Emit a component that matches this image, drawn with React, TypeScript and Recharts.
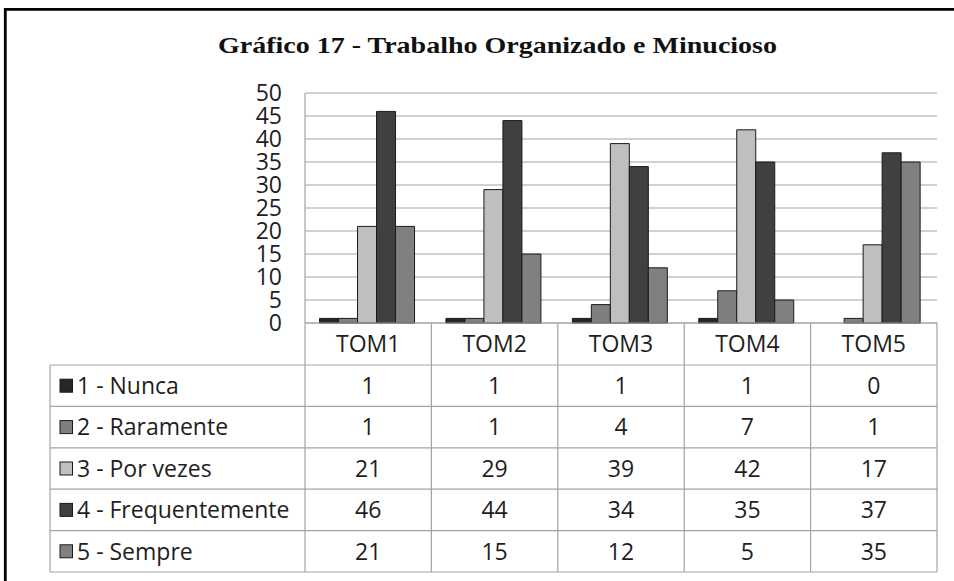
import React from 'react';
import { BarChart, Bar, XAxis, YAxis, CartesianGrid } from 'recharts';

const categories = ['TOM1', 'TOM2', 'TOM3', 'TOM4', 'TOM5'];
const seriesNames = ['1 - Nunca', '2 - Raramente', '3 - Por vezes', '4 - Frequentemente', '5 - Sempre'];
const nunca = [1, 1, 1, 1, 0];
const raramente = [1, 1, 4, 7, 1];
const porVezes = [21, 29, 39, 42, 17];
const frequentemente = [46, 44, 34, 35, 37];
const sempre = [21, 15, 12, 5, 35];
const yTicks = [0, 5, 10, 15, 20, 25, 30, 35, 40, 45, 50];
const title = 'Gráfico 17 - Trabalho Organizado e Minucioso';

const seriesValues = [nunca, raramente, porVezes, frequentemente, sempre];
const seriesKeys = ['s1', 's2', 's3', 's4', 's5'];
const colors = ['#262626', '#7f7f7f', '#bfbfbf', '#404040', '#808080'];

const data = categories.map((name, i) => {
  const row: Record<string, any> = { name };
  seriesKeys.forEach((k, s) => {
    row[k] = seriesValues[s][i];
  });
  return row;
});

const W = 954;
const H = 581;
const HEADER_H = 42;
const ROW_H = 41.4;
const LEGEND_W = 255;
const LINE = '#a3a3a3';
const TEXT = '#1e1e1e';
const FONT = '"Open Sans", sans-serif';
const FS = 23;

const TableTick = (props: any) => {
  const { x, y, payload, index } = props;
  const half = payload && payload.offset ? payload.offset : 63.2;
  const left = x - half;
  const right = x + half;
  const bottom = y + HEADER_H + ROW_H * 5;
  const els: any[] = [];
  // header label
  els.push(
    <text key="h" x={x} y={y + HEADER_H / 2 + 8.2} textAnchor="middle" fontFamily={FONT} fontSize={FS} fill={TEXT}>
      {payload.value}
    </text>
  );
  // right vertical line of column
  els.push(<line key="vr" x1={right} x2={right} y1={y} y2={bottom} stroke={LINE} strokeWidth={1.2} />);
  if (index === 0) {
    els.push(<line key="vl" x1={left} x2={left} y1={y} y2={bottom} stroke={LINE} strokeWidth={1.2} />);
    const lx = left - LEGEND_W;
    els.push(<line key="vll" x1={lx} x2={lx} y1={y + HEADER_H} y2={bottom} stroke={LINE} strokeWidth={1.2} />);
    for (let r = 0; r <= 5; r++) {
      const ly = y + HEADER_H + r * ROW_H;
      els.push(<line key={'lh' + r} x1={lx} x2={left} y1={ly} y2={ly} stroke={LINE} strokeWidth={1.2} />);
    }
    seriesNames.forEach((nm, s) => {
      const cy = y + HEADER_H + s * ROW_H + ROW_H / 2;
      els.push(
        <rect key={'m' + s} x={lx + 10} y={cy - 6.5} width={12.5} height={13} fill={colors[s]} stroke="#1a1a1a" strokeWidth={1} />
      );
      els.push(
        <text key={'t' + s} x={lx + 27} y={cy + 8.2} fontFamily={FONT} fontSize={FS} fill={TEXT}>
          {nm}
        </text>
      );
    });
  }
  for (let r = 0; r <= 5; r++) {
    const ly = y + HEADER_H + r * ROW_H;
    els.push(<line key={'h' + r} x1={left} x2={right} y1={ly} y2={ly} stroke={LINE} strokeWidth={1.2} />);
  }
  seriesValues.forEach((vals, s) => {
    const cy = y + HEADER_H + s * ROW_H + ROW_H / 2;
    els.push(
      <text key={'v' + s} x={x} y={cy + 8.2} textAnchor="middle" fontFamily={FONT} fontSize={FS} fill={TEXT}>
        {vals[index]}
      </text>
    );
  });
  return <g>{els}</g>;
};

export default function App() {
  return (
    <div style={{ position: 'absolute', left: 0, top: 0, width: W, height: H, background: '#fff' }}>
      <BarChart
        width={W}
        height={H}
        data={data}
        margin={{ top: 93, right: 17, bottom: 9, left: 245 }}
        barCategoryGap="11.5%"
        barGap={0}
      >
        <CartesianGrid vertical={false} stroke={LINE} strokeWidth={1.2} />
        <YAxis
          width={60}
          domain={[0, 50]}
          ticks={yTicks}
          interval={0}
          axisLine={{ stroke: LINE, strokeWidth: 1.2 }}
          tickLine={false}
          tickSize={6}
          tickMargin={17}
          tick={{ fontFamily: FONT, fontSize: FS, fill: TEXT }}
        />
        <XAxis
          dataKey="name"
          height={249}
          interval={0}
          tickLine={false}
          tickSize={0}
          tickMargin={0}
          axisLine={{ stroke: LINE, strokeWidth: 1.2 }}
          tick={<TableTick />}
        />
        {seriesKeys.map((k, s) => (
          <Bar key={k} dataKey={k} name={seriesNames[s]} fill={colors[s]} stroke="#1a1a1a" strokeWidth={1} isAnimationActive={false} />
        ))}
      </BarChart>
      <svg width={W} height={H} style={{ position: 'absolute', left: 0, top: 0, pointerEvents: 'none' }}>
        <line x1={5.3} x2={5.3} y1={8} y2={H} stroke="#000" strokeWidth={2.8} />
        <line x1={4} x2={W} y1={9.4} y2={9.4} stroke="#000" strokeWidth={2.8} />
        <text
          x={218}
          y={53}
          textLength={559}
          lengthAdjust="spacingAndGlyphs"
          fontFamily='"Liberation Serif", "Times New Roman", serif'
          fontWeight="bold"
          fontSize={24}
          fill="#111"
        >
          {title}
        </text>
      </svg>
    </div>
  );
}
